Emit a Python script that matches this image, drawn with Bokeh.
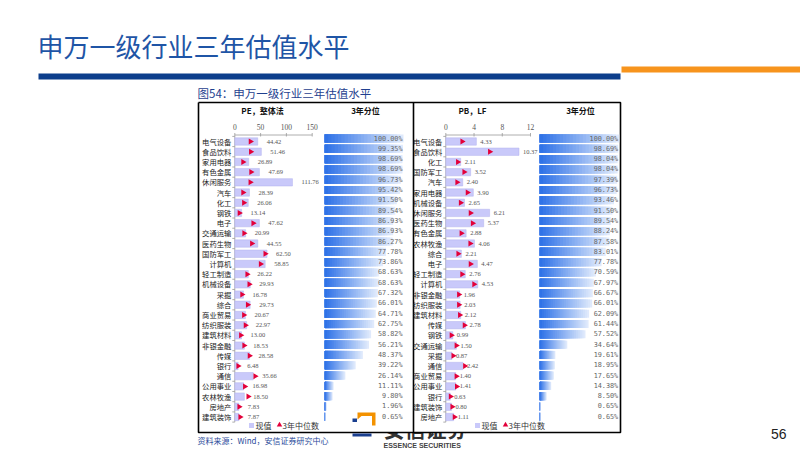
import numpy as np
from bokeh.plotting import figure
from bokeh.models import Range1d
from bokeh.core.properties import value
from bokeh.embed import file_html
from bokeh.resources import INLINE

# ---------------- data ----------------
pe_industries = ["电气设备", "食品饮料", "家用电器", "有色金属", "休闲服务", "汽车", "化工", "钢铁",
                 "电子", "交通运输", "医药生物", "国防军工", "计算机", "轻工制造", "机械设备", "采掘",
                 "综合", "商业贸易", "纺织服装", "建筑材料", "非银金融", "传媒", "银行", "通信",
                 "公用事业", "农林牧渔", "房地产", "建筑装饰"]
pe_current = [44.42, 51.46, 26.89, 47.69, 111.76, 28.39, 26.06, 13.14,
              47.62, 20.99, 44.55, 62.50, 58.85, 26.22, 29.93, 16.78,
              29.73, 20.67, 22.97, 13.00, 18.53, 28.58, 6.48, 35.66,
              16.98, 18.50, 7.83, 7.87]
pe_median = [30.4, 31.0, 16.0, 31.5, 30.0, 16.0, 17.5, 9.0,
             35.6, 18.0, 33.0, 59.0, 50.0, 24.0, 28.0, 14.0,
             25.0, 17.5, 20.7, 11.7, 18.0, 28.5, 6.5, 39.5,
             19.4, 26.0, 8.5, 10.4]
pe_percentile = [100.00, 99.35, 98.69, 98.69, 96.73, 95.42, 91.50, 89.54,
                 86.93, 86.93, 86.27, 77.78, 73.86, 68.63, 68.63, 67.32,
                 66.01, 64.71, 62.75, 58.82, 56.21, 48.37, 39.22, 26.14,
                 11.11, 9.80, 1.96, 0.65]
pe_ticks = [0, 50, 100, 150]

pb_industries = ["电气设备", "食品饮料", "化工", "国防军工", "汽车", "家用电器", "机械设备", "休闲服务",
                 "医药生物", "有色金属", "农林牧渔", "综合", "电子", "轻工制造", "计算机", "非银金融",
                 "纺织服装", "建筑材料", "传媒", "钢铁", "交通运输", "采掘", "通信", "商业贸易",
                 "公用事业", "银行", "建筑装饰", "房地产"]
pb_current = [4.33, 10.37, 2.11, 3.52, 2.40, 3.90, 2.65, 6.21,
              5.37, 2.88, 4.06, 2.21, 4.47, 2.76, 4.53, 1.96,
              2.03, 2.12, 2.78, 0.99, 1.50, 0.87, 2.42, 1.40,
              1.41, 0.63, 0.80, 1.11]
pb_median = [2.32, 6.23, 1.70, 2.60, 1.60, 3.07, 2.10, 3.50,
             3.80, 2.20, 3.45, 1.75, 3.50, 2.30, 4.00, 1.85,
             1.85, 1.98, 2.65, 0.80, 1.50, 1.05, 2.70, 1.50,
             1.55, 0.67, 0.90, 1.23]
pb_percentile = [100.00, 98.69, 98.04, 98.04, 97.39, 96.73, 93.46, 91.50,
                 89.54, 88.24, 87.58, 83.01, 77.78, 70.59, 67.97, 66.67,
                 66.01, 62.09, 61.44, 57.52, 34.64, 19.61, 18.95, 17.65,
                 14.38, 8.50, 0.65, 0.65]
pb_ticks = [0, 4, 8, 12]

# ---------------- styles ----------------
W, H = 800, 450
CJK = value("Noto Sans CJK SC")
SERIF = value("Liberation Serif")
MONO = value("DejaVu Sans Mono")
BAR_FILL = "#c9c9fa"
BAR_LINE = "#b3b3ee"
MED_COLOR = "#e3003a"
GRAD_L = np.array([44, 112, 231])
GRAD_R = np.array([228, 237, 252])

p = figure(width=W, height=H, output_backend="svg", toolbar_location=None, tools="",
           x_range=Range1d(0, W), y_range=Range1d(H, 0),
           x_axis_location=None, y_axis_location=None, min_border=0)
p.grid.visible = False
p.outline_line_color = None
p.background_fill_color = "white"
p.border_fill_color = "white"


def x_span(v0, p0, v1, p1):
    k = (v1 - v0) / (p1 - p0)
    return Range1d(start=v0 - p0 * k, end=v0 + (W - p0) * k)


def row_span(p_first, p_last, n):
    k = (n - 1) / (p_last - p_first)
    return Range1d(start=(H - p_first) * k, end=-p_first * k)


p.extra_x_ranges = {
    "pe": x_span(0, 234.3, 150, 311.7),
    "pep": x_span(0, 324.3, 100, 403.0),
    "pb": x_span(0, 445.3, 12, 530.0),
    "pbp": x_span(0, 539.3, 100, 618.7),
}
p.extra_y_ranges = {
    "rows": row_span(141.0, 416.5, 28),
    "prows": row_span(138.0, 416.3, 28),
}

# ---------------- logo text (partly hidden by the chart box) ----------------
p.text(x=[383], y=[427.5], text=["安信证券"], text_font=CJK, text_font_size="21px",
       text_color="#333333", text_baseline="middle", text_font_style="bold")

# chart box
p.quad(left=[198], right=[620], top=[102], bottom=[432], fill_color="white", line_color=None)
p.multi_line(xs=[[198, 620, 620, 198, 198], [413, 413]], ys=[[102, 102, 432, 432, 102], [102, 432]],
             line_color="black", line_width=1.6)

# logo shapes
p.patch(x=[357, 375, 375, 371.5, 371.5, 361, 357], y=[412, 412, 425, 425, 415.5, 415.5, 419],
        fill_color="#f39200", line_color=None)
p.quad(left=[352], right=[356.5], top=[418], bottom=[421.5], fill_color="#1a3f8f", line_color=None)
p.quad(left=[352], right=[371], top=[433], bottom=[436], fill_color="#1a3f8f", line_color=None)
p.text(x=[383], y=[444.5], text=["ESSENCE SECURITIES"], text_font=value("Liberation Sans"),
       text_font_size="7px", text_font_style="bold", text_color="#444444", text_baseline="middle")

# ---------------- slide decorations ----------------
p.text(x=[37], y=[45], text=["申万一级行业三年估值水平"], text_font=CJK, text_font_size="26px",
       text_color="#1f55a6", text_baseline="middle")
p.quad(left=[38], right=[620], top=[73], bottom=[79], fill_color="#0d3e8c", line_color=None)
p.quad(left=[621], right=[800], top=[66], bottom=[72], fill_color="#f7941d", line_color=None)
p.text(x=[197], y=[92], text=["图54：申万一级行业三年估值水平"], text_font=CJK, text_font_size="11.5px",
       text_color="#1f3f8f", text_baseline="middle")
p.text(x=[197], y=[440], text=["资料来源：Wind，安信证券研究中心"], text_font=CJK, text_font_size="8px",
       text_color="#2b4c9b", text_baseline="middle")
p.text(x=[786], y=[433], text=["56"], text_font=value("Liberation Sans"), text_font_size="14px",
       text_color="#222222", text_baseline="middle", text_align="right")


# ---------------- panels ----------------
def panel(xr, pxr, header, header_x, pct_header_x, legend_x,
          inds, cur, med, pct, ticks, label_off):
    n = len(inds)
    rows = list(range(n))
    xk = (p.extra_x_ranges[xr].end - p.extra_x_ranges[xr].start) / W  # units per px

    # headers
    p.text(x=[header_x, pct_header_x], y=[109.5, 109.5], text=[header, "3年分位"], text_font=CJK,
           text_font_size="8px", text_font_style="bold", text_color="#111111",
           text_align="center", text_baseline="middle")

    # value axis (top)
    p.text(x=ticks, y=[126] * len(ticks), text=[str(t) for t in ticks], text_font=SERIF,
           text_font_size="7.5px", text_color="#555555", text_align="center", text_baseline="middle",
           x_range_name=xr)
    p.segment(x0=[ticks[0]], x1=[ticks[-1]], y0=[134.5], y1=[134.5], line_color="#999999",
              line_width=0.8, x_range_name=xr)
    p.segment(x0=ticks, x1=ticks, y0=[132.5] * len(ticks), y1=[136] * len(ticks),
              line_color="#999999", line_width=0.8, x_range_name=xr)

    # category axis
    p.segment(x0=[0], x1=[0], y0=[-0.5], y1=[n - 0.5], line_color="#999999", line_width=0.8,
              x_range_name=xr, y_range_name="rows")
    edges = [i - 0.5 for i in range(n + 1)]
    p.segment(x0=[-2.5 * xk] * len(edges), x1=[0] * len(edges), y0=edges, y1=edges,
              line_color="#999999", line_width=0.8, x_range_name=xr, y_range_name="rows")

    # current value bars + median markers
    p.hbar(y=rows, left=0, right=cur, height=0.72, fill_color=BAR_FILL, line_color=BAR_LINE,
           line_width=0.5, x_range_name=xr, y_range_name="rows")
    p.scatter(x=med, y=rows, marker="triangle", angle=-np.pi / 2, size=6, fill_color=MED_COLOR,
              line_color=None, x_range_name=xr, y_range_name="rows")
    p.text(x=cur, y=rows, text=[f"{v:.2f}" for v in cur], x_offset=label_off, text_font=SERIF,
           text_font_size="6.5px", text_color="#555555", text_baseline="middle",
           x_range_name=xr, y_range_name="rows")
    p.text(x=[0] * n, y=rows, text=inds, x_offset=-3.5, text_font=CJK, text_font_size="7.3px",
           text_color="#222222", text_align="right", text_baseline="middle",
           x_range_name=xr, y_range_name="rows")

    # percentile bars with gradient: nested bars, longest (lightest) first
    K = 24
    ys, rs, cs = [], [], []
    for j in range(K):
        frac = (K - j) / K
        t = (K - j - 0.5) / K
        c = GRAD_L + (GRAD_R - GRAD_L) * t
        col = "#%02x%02x%02x" % tuple(int(round(x)) for x in c)
        for i, v in enumerate(pct):
            ys.append(i)
            rs.append(v * frac)
            cs.append(col)
    p.hbar(y=ys, left=0, right=rs, height=0.78, fill_color=cs, line_color=None,
           x_range_name=pxr, y_range_name="prows")
    p.text(x=[100] * n, y=rows, text=[f"{v:.2f}%" for v in pct], x_offset=-1, text_font=MONO,
           text_font_size="6.8px", text_color="#666666", text_align="right", text_baseline="middle",
           x_range_name=pxr, y_range_name="prows")

    # legend
    lx = legend_x
    p.scatter(x=[lx + 2], y=[425], marker="square", size=5, fill_color=BAR_FILL, line_color=None)
    p.text(x=[lx + 6], y=[425], text=["现值"], text_font=CJK, text_font_size="8px",
           text_color="#333333", text_baseline="middle")
    p.scatter(x=[lx + 30], y=[424.5], marker="triangle", size=5.5, fill_color=MED_COLOR, line_color=None)
    p.text(x=[lx + 33], y=[425], text=["3年中位数"], text_font=CJK, text_font_size="8px",
           text_color="#333333", text_baseline="middle")


panel("pe", "pep", "PE，整体法", 262, 365, 249,
      pe_industries, pe_current, pe_median, pe_percentile, pe_ticks, 9)
panel("pb", "pbp", "PB，LF", 472, 580, 475,
      pb_industries, pb_current, pb_median, pb_percentile, pb_ticks, 4)

open("out.html", "w").write(file_html(p, INLINE))
